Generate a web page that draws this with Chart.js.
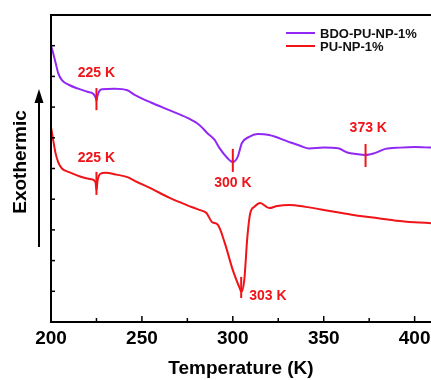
<!DOCTYPE html>
<html>
<head>
<meta charset="utf-8">
<script src="https://cdn.jsdelivr.net/npm/chart.js@4.4.1/dist/chart.umd.min.js"></script>
<style>
  body { margin: 0; background: #fff; }
  #wrap { width: 431px; height: 380px; position: relative; }
</style>
</head>
<body>
<div id="wrap"><canvas id="dscChart"></canvas></div>
<script>
// Curva BDO-PU-NP-1% (temperatura em K, sinal em unidades arbitrárias)
const bdoTemps = [200, 201, 202.5, 204, 206, 210, 215, 220, 223.5, 224.6, 225, 225.5, 226.5, 228, 235, 242, 246, 255, 265, 275, 281.6, 286, 290, 292.6, 297, 300, 302.6, 305, 309, 313.5, 320, 331, 337, 342, 350, 358, 363, 368, 373, 378, 384, 392, 400, 409];
const bdoValues = [9.0, 8.8, 8.45, 8.1, 7.88, 7.72, 7.6, 7.5, 7.42, 7.3, 7.2, 7.35, 7.52, 7.58, 7.6, 7.55, 7.4, 7.15, 6.9, 6.65, 6.42, 6.15, 5.93, 5.67, 5.34, 5.21, 5.37, 5.83, 6.03, 6.12, 6.09, 5.86, 5.74, 5.65, 5.68, 5.66, 5.52, 5.47, 5.44, 5.5, 5.64, 5.68, 5.7, 5.68];

// Curva PU-NP-1%
const puTemps = [200, 201, 202.5, 204, 206, 210, 216, 222, 224.5, 225, 225.6, 227, 230, 236, 242, 246, 255, 265, 275, 281.6, 285.5, 288.5, 291.8, 295.6, 300, 303.8, 304.7, 306.3, 308, 309.6, 311.8, 315, 320, 324.5, 331, 340, 350, 360, 370, 380, 390, 400, 409];
const puValues = [6.35, 6.0, 5.5, 5.2, 5.0, 4.88, 4.74, 4.65, 4.55, 4.3, 4.6, 4.82, 4.86, 4.8, 4.72, 4.6, 4.35, 4.05, 3.8, 3.65, 3.55, 3.26, 3.16, 2.57, 1.69, 1.1, 0.98, 1.37, 2.77, 3.55, 3.75, 3.88, 3.71, 3.78, 3.81, 3.75, 3.65, 3.55, 3.45, 3.38, 3.3, 3.25, 3.22];

const seriesLabels = ['BDO-PU-NP-1%', 'PU-NP-1%'];
const seriesColors = ['rgb(145, 40, 245)', 'rgb(240, 20, 25)'];

// Anotações (marcas verticais e textos)
const markTemps = [225, 225, 300, 373, 304.6];
const markTop = [7.62, 4.89, 5.64, 5.8, 1.47];
const markBottom = [6.9, 4.14, 4.89, 5.05, 0.78];
const noteTexts = ['225 K', '225 K', '300 K', '373 K', '303 K'];
const noteTemps = [225, 225, 300, 374.5, 309];
const noteValues = [8.11, 5.34, 4.53, 6.32, 0.85];
const noteAlign = ['center', 'center', 'center', 'center', 'left'];

const xTickStep = 25;
const FONT = '"Liberation Sans", Arial, sans-serif';

function toPoints(xs, ys) {
  return xs.map((x, i) => ({ x: x, y: ys[i] }));
}

// Plugin para moldura, ticks internos, seta, legenda e anotações
const extrasPlugin = {
  id: 'extras',
  afterDraw(chart) {
    const ctx = chart.ctx;
    const area = chart.chartArea;
    const xs = chart.scales.x;
    const ys = chart.scales.y;
    ctx.save();

    // moldura (esquerda, topo, base)
    ctx.strokeStyle = '#000';
    ctx.lineWidth = 2;
    ctx.beginPath();
    ctx.moveTo(chart.width, area.top);
    ctx.lineTo(area.left, area.top);
    ctx.lineTo(area.left, area.bottom);
    ctx.lineTo(chart.width, area.bottom);
    ctx.stroke();

    // ticks do eixo x (para dentro)
    ctx.lineWidth = 1.5;
    xs.ticks.forEach((t) => {
      const px = xs.getPixelForValue(t.value);
      const len = t.value % 50 === 0 ? 6 : 4;
      ctx.beginPath();
      ctx.moveTo(px, area.bottom);
      ctx.lineTo(px, area.bottom - len);
      ctx.stroke();
    });
    // ticks do eixo y
    ys.ticks.forEach((t) => {
      const py = ys.getPixelForValue(t.value);
      ctx.beginPath();
      ctx.moveTo(area.left, py);
      ctx.lineTo(area.left + 4, py);
      ctx.stroke();
    });

    // seta "Exothermic"
    ctx.lineWidth = 2;
    ctx.beginPath();
    ctx.moveTo(39, 247);
    ctx.lineTo(39, 100);
    ctx.stroke();
    ctx.fillStyle = '#000';
    ctx.beginPath();
    ctx.moveTo(39, 89);
    ctx.lineTo(34.5, 103);
    ctx.lineTo(43.5, 103);
    ctx.closePath();
    ctx.fill();

    ctx.save();
    ctx.translate(21, 162);
    ctx.rotate(-Math.PI / 2);
    ctx.font = 'bold 19px ' + FONT;
    ctx.textAlign = 'center';
    ctx.textBaseline = 'middle';
    ctx.fillText('Exothermic', 0, 0);
    ctx.restore();

    // legenda
    ctx.font = 'bold 13px ' + FONT;
    ctx.textAlign = 'left';
    ctx.textBaseline = 'middle';
    chart.data.datasets.forEach((ds, i) => {
      const y = 33 + i * 13;
      ctx.strokeStyle = ds.borderColor;
      ctx.lineWidth = 2;
      ctx.beginPath();
      ctx.moveTo(286, y);
      ctx.lineTo(315, y);
      ctx.stroke();
      ctx.fillStyle = '#111';
      ctx.fillText(ds.label, 320, y + 1);
    });

    // anotações
    ctx.strokeStyle = seriesColors[1];
    ctx.fillStyle = seriesColors[1];
    ctx.lineWidth = 2;
    markTemps.forEach((t, i) => {
      const px = xs.getPixelForValue(t);
      ctx.beginPath();
      ctx.moveTo(px, ys.getPixelForValue(markTop[i]));
      ctx.lineTo(px, ys.getPixelForValue(markBottom[i]));
      ctx.stroke();
    });
    ctx.font = 'bold 14px ' + FONT;
    noteTexts.forEach((txt, i) => {
      ctx.textAlign = noteAlign[i];
      ctx.fillText(txt, xs.getPixelForValue(noteTemps[i]), ys.getPixelForValue(noteValues[i]));
    });

    ctx.restore();
  }
};

const ctx = document.getElementById('dscChart').getContext('2d');
const chart = new Chart(ctx, {
  type: 'line',
  data: {
    datasets: [
      {
        label: seriesLabels[0],
        data: toPoints(bdoTemps, bdoValues),
        borderColor: seriesColors[0],
        backgroundColor: seriesColors[0],
        borderWidth: 2,
        pointRadius: 0,
        cubicInterpolationMode: 'monotone',
        fill: false
      },
      {
        label: seriesLabels[1],
        data: toPoints(puTemps, puValues),
        borderColor: seriesColors[1],
        backgroundColor: seriesColors[1],
        borderWidth: 2,
        pointRadius: 0,
        cubicInterpolationMode: 'monotone',
        fill: false
      }
    ]
  },
  options: {
    responsive: true,
    maintainAspectRatio: false,
    animation: false,
    layout: { padding: { top: 15, right: 0, left: 0, bottom: 0 } },
    plugins: {
      legend: { display: false },
      tooltip: { enabled: false }
    },
    scales: {
      x: {
        type: 'linear',
        min: 200,
        max: 409,
        grid: { display: false, drawTicks: false },
        border: { display: false },
        ticks: {
          stepSize: xTickStep,
          autoSkip: false,
          maxRotation: 0,
          includeBounds: false,
          padding: 5,
          color: '#000',
          font: { family: FONT, size: 19, weight: 'bold' },
          callback: (v) => (v % 50 === 0 ? v : '')
        },
        title: {
          display: true,
          text: 'Temperature (K)',
          color: '#000',
          padding: { top: 0, bottom: 0 },
          font: { family: FONT, size: 19, weight: 'bold' }
        },
        // sem folga extra para os rótulos: a área do gráfico vai até a borda direita
        afterFit: (s) => { s.height = 58; s.paddingLeft = 0; s.paddingRight = 0; }
      },
      y: {
        min: 0,
        max: 10,
        grid: { display: false, drawTicks: false },
        border: { display: false },
        ticks: { display: false, stepSize: 1 },
        afterFit: (s) => { s.width = 51; }
      }
    }
  },
  plugins: [extrasPlugin]
});
</script>
</body>
</html>
